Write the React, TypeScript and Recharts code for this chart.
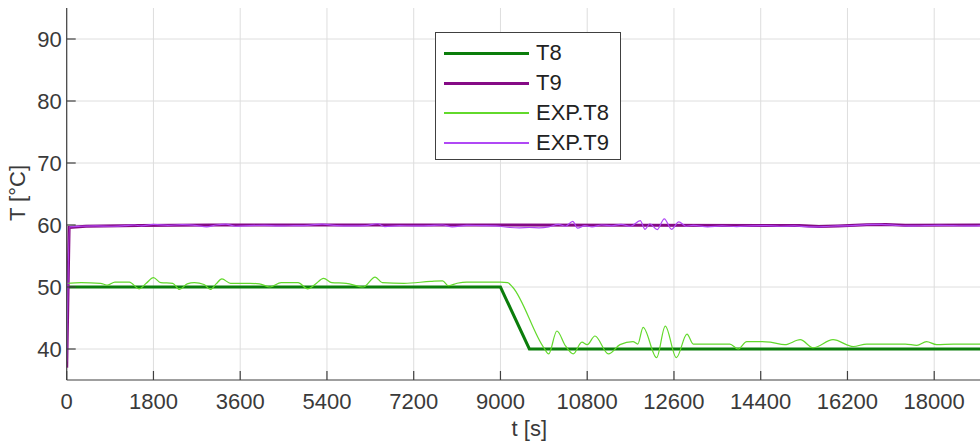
import React from "react";
import { LineChart, Line, XAxis, YAxis, CartesianGrid, Legend } from "recharts";

// time [s] / temperature [°C] pairs
const xTicks = [0, 1800, 3600, 5400, 7200, 9000, 10800, 12600, 14400, 16200, 18000];
const yTicks = [40, 50, 60, 70, 80, 90];

const t8Model: [number, number][] = [
  [0, 50], [9000, 50], [9600, 40], [18950, 40],
];

const t9Model: [number, number][] = [
  [0, 37], [50, 59.6], [400, 59.8], [1500, 59.9], [3000, 60], [6000, 60], [9000, 60],
  [12000, 59.95], [15200, 59.9], [15600, 59.75], [16000, 59.85], [16600, 60.05],
  [17000, 60.1], [17400, 59.95], [18950, 60],
];

const expT8: [number, number][] = [
  [0, 50.6], [300, 50.7], [700, 50.6], [850, 50.3], [1000, 50.8], [1300, 50.8], [1500, 49.7],
  [1650, 50.6], [1800, 51.5], [1950, 50.7], [2200, 50.6], [2340, 49.6], [2500, 50.5],
  [2650, 50.7], [2850, 50.4], [2980, 49.6], [3100, 50.5], [3220, 51.3], [3400, 50.6],
  [3800, 50.6], [4000, 50.5], [4220, 50.0], [4450, 50.7], [4800, 50.7], [5000, 49.7],
  [5150, 50.4], [5330, 51.4], [5500, 50.7], [5800, 50.6], [6150, 50.0], [6400, 51.6],
  [6550, 50.7], [7000, 50.6], [7550, 50.9], [7800, 51.0], [7920, 50.2], [8100, 50.6],
  [8300, 50.8], [9000, 50.8], [9150, 50.7], [9250, 50.0], [9900, 40.2], [10000, 39.2],
  [10170, 42.9], [10350, 40.5], [10510, 39.2], [10690, 41.1], [10800, 40.7], [10960, 42.1],
  [11240, 39.2], [11480, 40.7], [11750, 41.2], [11850, 40.8], [11960, 43.5], [12240, 38.6],
  [12420, 43.7], [12650, 38.6], [12870, 42.4], [13000, 40.8], [13400, 40.8], [13760, 40.8],
  [13930, 40.0], [14110, 41.2], [14400, 41.2], [14600, 41.1], [14900, 40.7], [15220, 41.5],
  [15490, 40.2], [15900, 41.5], [16320, 40.4], [16600, 40.8], [17400, 40.8], [17640, 40.6],
  [17840, 41.2], [18050, 40.7], [18400, 40.8], [18950, 40.8],
];

const expT9: [number, number][] = [
  [0, 38], [60, 59.7], [300, 59.8], [600, 59.85], [900, 59.8], [1200, 59.9], [1400, 60.0],
  [1550, 59.85], [1800, 60.1], [2100, 59.95], [2400, 60.05], [2700, 59.9], [2900, 59.7],
  [3100, 60.0], [3300, 60.15], [3500, 59.8], [3800, 59.9], [4100, 59.95], [4400, 59.85],
  [4700, 59.9], [5000, 59.95], [5300, 60.15], [5600, 59.9], [5900, 59.85], [6200, 59.9],
  [6450, 60.2], [6600, 59.75], [6900, 59.9], [7200, 59.85], [7500, 59.9], [7800, 60.0],
  [8000, 59.7], [8300, 59.95], [8600, 59.9], [8900, 59.85], [9200, 59.6], [9400, 59.55],
  [9600, 59.6], [9800, 59.55], [10000, 59.7], [10200, 60.1], [10350, 59.8], [10500, 60.6],
  [10600, 59.5], [10750, 59.9], [10900, 59.7], [11100, 60.0], [11300, 59.85], [11500, 60.1],
  [11700, 59.8], [11900, 60.7], [12000, 59.3], [12100, 60.2], [12250, 59.25], [12400, 61.0],
  [12550, 59.3], [12700, 60.5], [12850, 59.8], [13000, 59.95], [13300, 59.7], [13600, 59.85],
  [13900, 59.75], [14200, 59.85], [14500, 59.9], [14800, 59.8], [15100, 59.85], [15400, 59.7],
  [15700, 59.75], [16000, 59.85], [16300, 59.9], [16600, 60.05], [16900, 60.1], [17200, 59.95],
  [17500, 59.85], [17800, 59.9], [18100, 59.95], [18400, 59.9], [18700, 59.85], [18950, 59.9],
];

const toRows = (pts: [number, number][]) => pts.map(([t, v]) => ({ t, v }));

const series = [
  { name: "T8", pts: t8Model, color: "#0b7d0b", width: 3, type: "linear" },
  { name: "T9", pts: t9Model, color: "#850a85", width: 3, type: "linear" },
  { name: "EXP.T8", pts: expT8, color: "#62d92b", width: 1.2, type: "monotone" },
  { name: "EXP.T9", pts: expT9, color: "#b048f5", width: 1.2, type: "monotone" },
];

const FONT = "'Liberation Sans', Arial, Helvetica, sans-serif";
const AX = "#404040";
const TXT = "#3a3a3a";

function LegendBox() {
  return (
    <div style={{
      width: 186, height: 128, border: `1px solid ${AX}`, background: "#fff",
      fontFamily: FONT, fontSize: 22, color: "#222", boxSizing: "border-box", paddingTop: 5,
    }}>
      {series.map(s => (
        <div key={s.name} style={{ display: "flex", alignItems: "center", height: 30 }}>
          <div style={{ marginLeft: 8, width: 85, height: s.width, background: s.color }} />
          <span style={{ marginLeft: 7, lineHeight: "30px" }}>{s.name}</span>
        </div>
      ))}
    </div>
  );
}

function YLabel() {
  return (
    <text x={25} y={193} transform="rotate(-90, 25, 193)" textAnchor="middle"
      fontFamily={FONT} fontSize={22} fill={TXT}>T [°C]</text>
  );
}

export default function App() {
  return (
    <div style={{ position: "absolute", left: 0, top: 0, background: "#fff" }}>
      <LineChart width={980} height={444} margin={{ top: 8, right: 0, bottom: 0, left: 0 }}>
        <CartesianGrid stroke="#dedede" strokeWidth={1} horizontalValues={yTicks} verticalValues={xTicks} />
        <XAxis type="number" dataKey="t" domain={[0, 18950]} allowDataOverflow ticks={xTicks}
          height={64} tickSize={-9} tickMargin={22} interval={0}
          axisLine={{ stroke: AX, strokeWidth: 1.2 }} tickLine={{ stroke: AX, strokeWidth: 1.2 }}
          tick={{ fill: TXT, fontSize: 22, fontFamily: FONT }}
          label={{ value: "t [s]", position: "insideBottom", offset: 8, dx: 6, fill: TXT, fontSize: 22, fontFamily: FONT }} />
        <XAxis xAxisId="top" orientation="top" type="number" dataKey="t" domain={[0, 18950]} allowDataOverflow
          ticks={xTicks} height={0} tickSize={-9} interval={0}
          axisLine={{ stroke: AX, strokeWidth: 1.2 }} tickLine={{ stroke: AX, strokeWidth: 1.2 }}
          tick={() => <g />} />
        <YAxis type="number" domain={[35, 95]} allowDataOverflow ticks={yTicks} width={66.7}
          tickSize={-9} tickMargin={14} interval={0}
          axisLine={{ stroke: AX, strokeWidth: 1.2 }} tickLine={{ stroke: AX, strokeWidth: 1.2 }}
          tick={{ fill: TXT, fontSize: 22, fontFamily: FONT }}
          label={<YLabel />} />
        {series.map(s => (
          <Line key={s.name} data={toRows(s.pts)} dataKey="v" name={s.name} type={s.type as any}
            stroke={s.color} strokeWidth={s.width} dot={false} activeDot={false}
            isAnimationActive={false} />
        ))}
        <Legend layout="vertical" align="center" verticalAlign="middle"
          wrapperStyle={{ position: "absolute", left: 435, top: 32, width: 186, height: 128 }}
          content={() => <LegendBox />} />
      </LineChart>
    </div>
  );
}
